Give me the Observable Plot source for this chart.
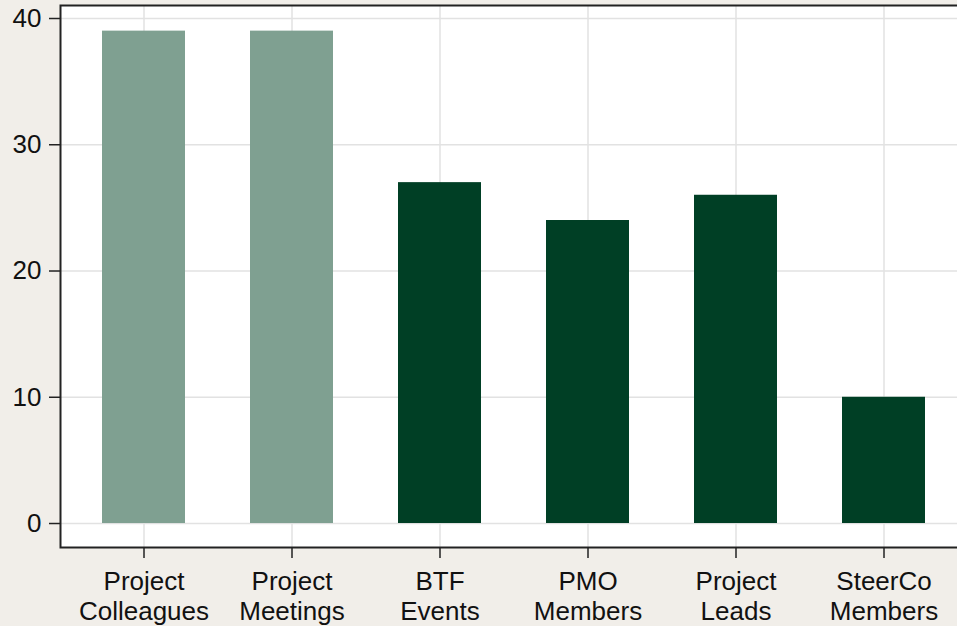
<!DOCTYPE html>
<html>
<head>
<meta charset="utf-8">
<script src="https://cdn.jsdelivr.net/npm/d3@7"></script>
<script src="https://cdn.jsdelivr.net/npm/@observablehq/plot@0.6"></script>
<style>
  html, body { margin: 0; padding: 0; background: #f1eee9; overflow: hidden; }
  #chart svg { display: block; background: transparent; }
</style>
</head>
<body>
<div id="chart"></div>
<script>
const categories = ["Project\nColleagues", "Project\nMeetings", "BTF\nEvents", "PMO\nMembers", "Project\nLeads", "SteerCo\nMembers"];
const values = [39, 39, 27, 24, 26, 10];
const groups = ["light", "light", "dark", "dark", "dark", "dark"];
const yTicks = [0, 10, 20, 30, 40];

const data = categories.map((c, i) => ({category: c, value: values[i], group: groups[i]}));
const yMin = -1.9, yMax = 41.03;
const font = "'Liberation Sans', Arial, Helvetica, sans-serif";

const chart = Plot.plot({
  width: 957,
  height: 626,
  marginLeft: 60,
  marginRight: -2,
  marginTop: 5,
  marginBottom: 79,
  style: {fontFamily: font, fontSize: "26px", color: "#111", background: "transparent"},
  x: {domain: categories, range: [60, 967], paddingInner: 0.44, paddingOuter: 0.272, axis: null},
  y: {domain: [yMin, yMax], range: [547, 5], axis: null},
  color: {domain: ["light", "dark"], range: ["#7fa091", "#003f25"]},
  marks: [
    Plot.frame({fill: "white", stroke: null}),
    Plot.ruleY(yTicks, {stroke: "#e2e2e2", strokeWidth: 1.5}),
    Plot.ruleX(categories, {stroke: "#e2e2e2", strokeWidth: 1.5}),
    Plot.barY(data, {x: "category", y: "value", fill: "group"}),
    Plot.frame({stroke: "#222", strokeWidth: 2}),
    Plot.axisY(yTicks, {label: null, tickSize: 11, tickPadding: 8, fontSize: 26, stroke: "#222", strokeWidth: 1.5, tickFormat: d => d}),
    Plot.ruleX(categories, {x: d => d, y1: yMin, y2: yMin, insetBottom: -11, stroke: "#222", strokeWidth: 1.5}),
    Plot.text(categories, {x: d => d, y: yMin, dy: 21, lineAnchor: "top", lineHeight: 1.16, fontSize: 26, fill: "#111", text: d => d})
  ]
});
document.getElementById("chart").appendChild(chart);
</script>
</body>
</html>
